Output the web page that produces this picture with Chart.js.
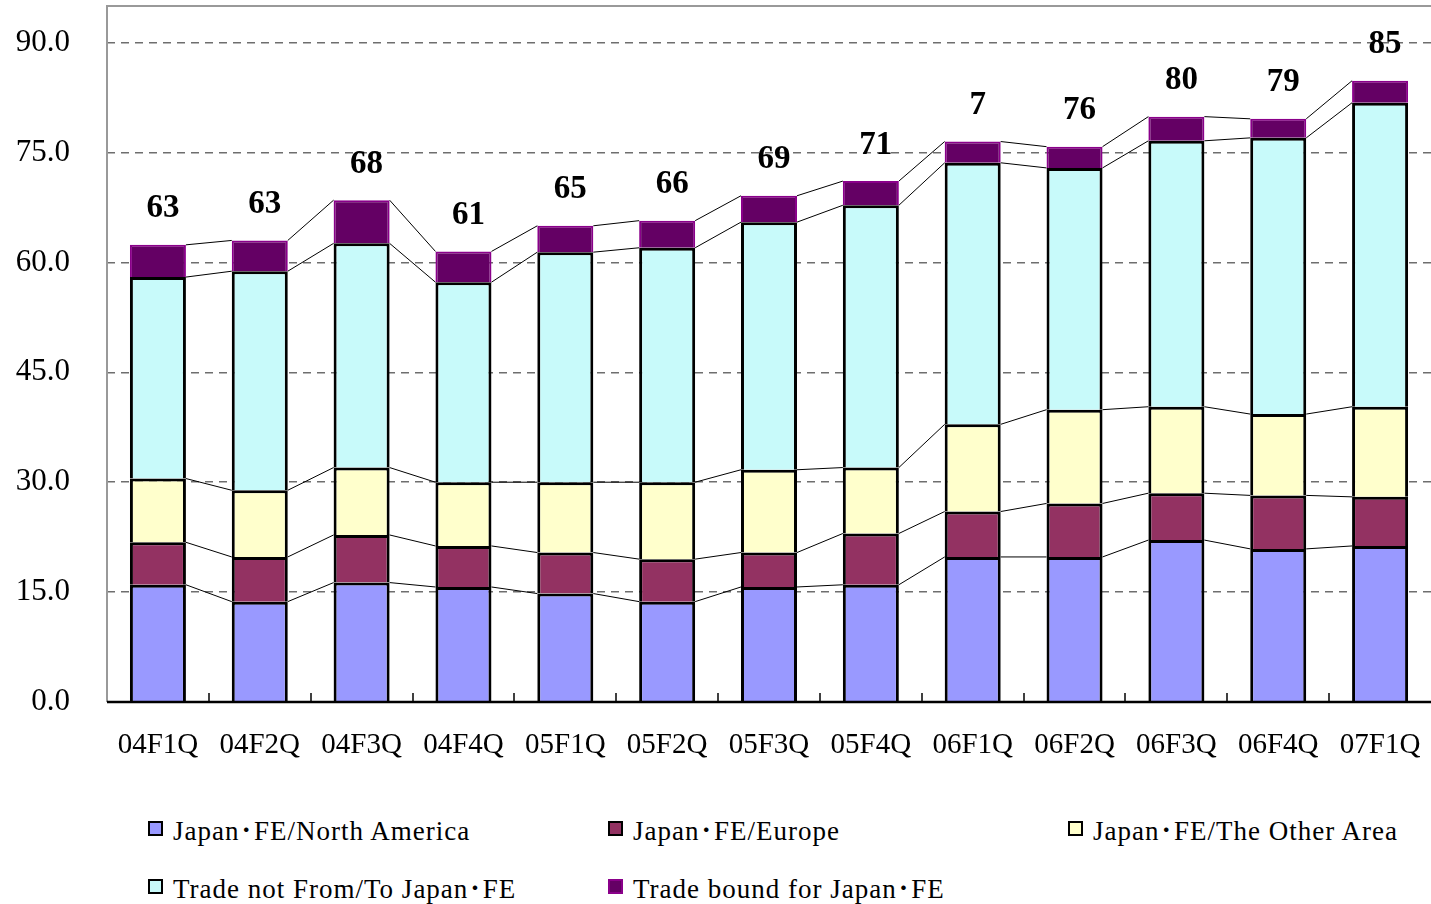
<!DOCTYPE html>
<html>
<head>
<meta charset="utf-8">
<script src="https://cdn.jsdelivr.net/npm/chart.js@4/dist/chart.umd.min.js"></script>
<style>
  html, body { margin: 0; padding: 0; background: #fff; overflow: hidden; }
  #wrap { position: relative; width: 1431px; height: 904px; }
  #c { position: absolute; left: 0; top: 0; }
  #legend { position: absolute; left: 148px; top: 809px; display: grid;
            grid-template-columns: 460px 460px 460px; grid-auto-rows: 58px;
            font-family: "Liberation Serif", "Times New Roman", "Noto Sans CJK JP", serif; font-size: 27px;
            letter-spacing: 1px; color: #000; }
  .item { display: flex; align-items: center; height: 38px; white-space: nowrap; }
  .box { width: 11px; height: 11px; border: 2px solid #000; margin-right: 10px; flex: none; }
</style>
</head>
<body>
<div id="wrap">
  <canvas id="c" width="1431" height="772"></canvas>
  <div id="legend"></div>
</div>
<script>
const categories = ['04F1Q','04F2Q','04F3Q','04F4Q','05F1Q','05F2Q','05F3Q','05F4Q','06F1Q','06F2Q','06F3Q','06F4Q','07F1Q'];
const northAmerica = [16.0, 13.7, 16.3, 15.7, 14.8, 13.7, 15.7, 16.0, 19.8, 19.8, 22.1, 20.9, 21.3];
const europe       = [5.8, 6.1, 6.5, 5.6, 5.6, 5.8, 4.7, 7.0, 6.2, 7.3, 6.4, 7.3, 6.7];
const otherArea    = [8.7, 9.1, 9.2, 8.7, 9.6, 10.5, 11.3, 9.0, 11.9, 12.8, 11.8, 11.1, 12.3];
const tradeNot     = [27.5, 29.9, 30.6, 27.3, 31.4, 32.0, 33.8, 35.8, 35.7, 33.0, 36.3, 37.7, 41.5];
const tradeBound   = [4.4, 4.2, 5.9, 4.2, 3.6, 3.7, 3.6, 3.3, 2.9, 2.9, 3.3, 2.6, 3.0];
const totalLabels  = ['63','63','68','61','65','66','69','71','7','76','80','79','85'];
const yTickValues  = [0, 15, 30, 45, 60, 75, 90];
const seriesNames  = ['Japan･FE/North America','Japan･FE/Europe','Japan･FE/The Other Area','Trade not From/To Japan･FE','Trade bound for Japan･FE'];

const SERIF = '"Liberation Serif", "Times New Roman", "Noto Sans CJK JP", serif';

const decor = {
  id: 'decor',
  beforeDatasetsDraw(chart) {
    const ctx = chart.ctx;
    ctx.save();
    ctx.strokeStyle = '#000';
    ctx.lineWidth = 1;
    chart.data.datasets.forEach((ds, d) => {
      const els = chart.getDatasetMeta(d).data;
      for (let i = 0; i < els.length - 1; i++) {
        const a = els[i], b = els[i + 1];
        ctx.beginPath();
        ctx.moveTo(a.x + a.width / 2, a.y);
        ctx.lineTo(b.x - b.width / 2, b.y);
        ctx.stroke();
      }
    });
    ctx.restore();
  },
  afterDatasetsDraw(chart) {
    const ctx = chart.ctx, area = chart.chartArea;
    ctx.save();
    ctx.strokeStyle = '#999';
    ctx.lineWidth = 2;
    ctx.beginPath();
    ctx.moveTo(area.left, area.bottom);
    ctx.lineTo(area.left, area.top);
    ctx.lineTo(area.right, area.top);
    ctx.stroke();
    ctx.strokeStyle = '#000';
    ctx.lineWidth = 2.5;
    ctx.beginPath();
    ctx.moveTo(area.left, area.bottom);
    ctx.lineTo(area.right, area.bottom);
    ctx.stroke();
    const top = chart.getDatasetMeta(chart.data.datasets.length - 1).data;
    const base = chart.getDatasetMeta(0).data;
    ctx.lineWidth = 1.5;
    for (let i = 0; i < base.length - 1; i++) {
      const x = Math.round((base[i].x + base[i + 1].x) / 2);
      ctx.beginPath();
      ctx.moveTo(x, area.bottom);
      ctx.lineTo(x, area.bottom - 9);
      ctx.stroke();
    }
    ctx.fillStyle = '#000';
    ctx.font = 'bold 33px ' + SERIF;
    ctx.textAlign = 'center';
    ctx.textBaseline = 'middle';
    top.forEach((el, i) => {
      ctx.fillText(totalLabels[i], el.x + 5, el.y - 36);
    });
    ctx.restore();
  }
};

const colors = ['#9999FF', '#933262', '#FFFFCC', '#C8FAFA', '#640064'];
const borders = ['#000', '#000', '#000', '#000', '#8A008A'];
const seriesData = [northAmerica, europe, otherArea, tradeNot, tradeBound];

const chart = new Chart(document.getElementById('c'), {
  type: 'bar',
  data: {
    labels: categories,
    datasets: seriesData.map((arr, k) => ({
      label: seriesNames[k],
      data: arr,
      backgroundColor: colors[k],
      borderColor: borders[k],
      borderWidth: k === 4 ? 2 : 3,
      borderSkipped: 'bottom',
      barPercentage: 0.55,
      categoryPercentage: 1.0
    }))
  },
  options: {
    responsive: false,
    animation: false,
    devicePixelRatio: 1,
    layout: { padding: { top: 6, left: 0, right: 0, bottom: 0 } },
    plugins: { legend: { display: false }, tooltip: { enabled: false } },
    scales: {
      x: {
        stacked: true,
        grid: { display: false, drawTicks: false },
        border: { display: false },
        ticks: { font: { family: SERIF, size: 29 }, color: '#000', padding: 26, maxRotation: 0, autoSkip: false },
        afterFit(s) { s.height = 70; s.paddingLeft = 0; s.paddingRight = 0; }
      },
      y: {
        stacked: true,
        min: 0,
        max: 95,
        afterBuildTicks(s) { s.ticks = yTickValues.map(v => ({ value: v })); },
        afterFit(s) { s.width = 107; s.paddingTop = 0; s.paddingBottom = 0; },
        grid: {
          drawTicks: false,
          lineWidth: 1.5,
          color: (c) => (c.tick && c.tick.value === 0) ? 'rgba(0,0,0,0)' : '#6e6e6e'
        },
        border: { display: false, dash: [8, 6] },
        ticks: {
          font: { family: SERIF, size: 31 },
          color: '#000',
          padding: 37,
          callback: (v) => Number(v).toFixed(1)
        }
      }
    }
  },
  plugins: [decor]
});

const legendEl = document.getElementById('legend');
chart.data.datasets.forEach((ds, k) => {
  const item = document.createElement('div');
  item.className = 'item';
  const box = document.createElement('span');
  box.className = 'box';
  box.style.background = ds.backgroundColor;
  box.style.borderColor = k === 4 ? ds.borderColor : '#000';
  const txt = document.createElement('span');
  txt.textContent = ds.label;
  item.appendChild(box);
  item.appendChild(txt);
  legendEl.appendChild(item);
});
</script>
</body>
</html>
